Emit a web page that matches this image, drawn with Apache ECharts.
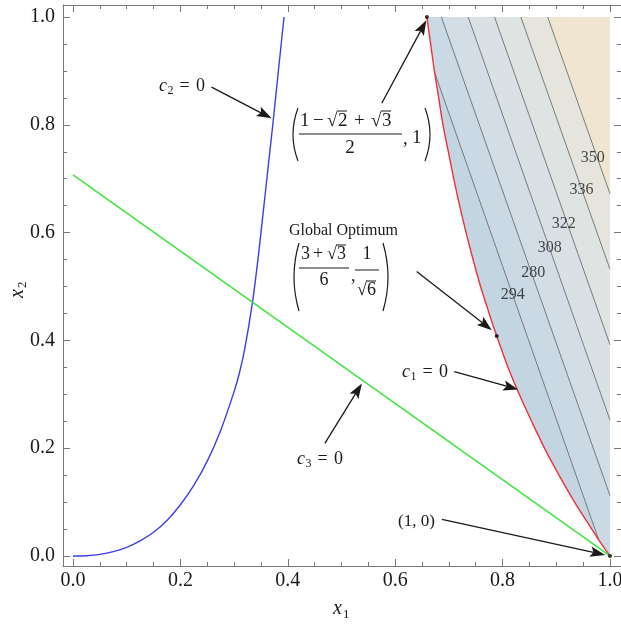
<!DOCTYPE html>
<html>
<head>
<meta charset="utf-8">
<script src="https://cdn.jsdelivr.net/npm/echarts@6/dist/echarts.min.js"></script>
<style>
  html, body { margin: 0; padding: 0; background: #fff; }
  #main { width: 621px; height: 626px; }
</style>
</head>
<body>
<div id="main"></div>
<script>
// tick values
const majorTicks = [0, 0.2, 0.4, 0.6, 0.8, 1.0];
const minorTicks = [0.05, 0.1, 0.15, 0.25, 0.3, 0.35, 0.45, 0.5, 0.55, 0.65, 0.7, 0.75, 0.85, 0.9, 0.95];

// c1 = 0 (red boundary), from the top corner down to (1, 0)
const c1Curve = [[0.659, 1], [0.666, 0.95], [0.673, 0.9], [0.681, 0.85], [0.689, 0.8], [0.699, 0.75],
  [0.709, 0.7], [0.720, 0.65], [0.732, 0.6], [0.745, 0.55], [0.759, 0.5], [0.775, 0.45], [0.789, 0.408],
  [0.792, 0.4], [0.810, 0.35], [0.831, 0.3], [0.854, 0.25], [0.878, 0.2], [0.905, 0.15], [0.934, 0.1],
  [0.966, 0.05], [0.979, 0.03], [1, 0]];
// c2 = 0 (blue)
const c2Curve = [[0, 0], [0.025, 0.0005], [0.05, 0.003], [0.075, 0.008], [0.1, 0.016], [0.125, 0.028],
  [0.15, 0.044], [0.175, 0.066], [0.2, 0.095], [0.225, 0.131], [0.25, 0.176], [0.275, 0.233],
  [0.3, 0.305], [0.31, 0.34], [0.32, 0.385], [0.334, 0.469], [0.345, 0.555], [0.355, 0.645],
  [0.364, 0.727], [0.373, 0.809], [0.383, 0.905], [0.393, 1.0]];
// c3 = 0 (green)
const c3Line = [[0, 0.707], [1, 0]];

// contour lines of the objective inside the feasible region
const contourLevels = [280, 294, 308, 322, 336, 350];
const contourLines = [
  [[0.673, 0.898], [0.979, 0.030]],
  [[0.686, 1], [1, 0.112]],
  [[0.736, 1], [1, 0.252]],
  [[0.785, 1], [1, 0.392]],
  [[0.834, 1], [1, 0.532]],
  [[0.884, 1], [1, 0.672]]
];
const contourLabelText = ['350', '336', '322', '308', '280', '294'];
const contourLabelPos = [[0.968, 0.739], [0.947, 0.679], [0.914, 0.616], [0.888, 0.572], [0.857, 0.526], [0.819, 0.484]];

// marked points and annotation arrows [tailX, tailY, tipX, tipY]
const keyPoints = [[0.659, 1], [0.789, 0.408], [1, 0]];
const arrows = [
  [0.258, 0.870, 0.370, 0.812],
  [0.575, 0.840, 0.658, 0.994],
  [0.640, 0.528, 0.780, 0.419],
  [0.710, 0.342, 0.829, 0.309],
  [0.469, 0.209, 0.538, 0.320],
  [0.687, 0.068, 0.991, 0.002]
];

// band polygons (painted in order, later ones on top)
const bandPolys = [];
bandPolys.push(c1Curve.concat([[1, 1]]));
const l280 = contourLines[0];
bandPolys.push([l280[0]].concat(c1Curve.filter(p => p[1] < l280[0][1] && p[1] > l280[1][1]), [l280[1]]));
contourLines.slice(1).forEach(l => bandPolys.push([l[0], [1, 1], l[1]]));
const bandColors = ['#cad9e4', '#c4d5e2', '#d2dde5', '#d9e1e5', '#dfe3e2', '#e5e5dd', '#f0e5d0'];

const serif = '"Liberation Serif", "Times New Roman", serif';
const ink = '#1a1a1a';
const frameColor = '#777';
const xMin = -0.0186, xMax = 1.0205, yMin = -0.0186, yMax = 1.0223;

function axis(pos, ticks, len, withLabels, withLine) {
  return {
    type: 'value', min: pos === 'left' || pos === 'right' ? yMin : xMin,
    max: pos === 'left' || pos === 'right' ? yMax : xMax,
    position: pos,
    axisLine: {show: withLine, onZero: false, lineStyle: {color: frameColor, width: 1}},
    axisTick: {show: true, inside: true, length: len, customValues: ticks, lineStyle: {color: frameColor, width: 1}},
    axisLabel: {
      show: withLabels, customValues: ticks, formatter: v => v.toFixed(1),
      fontFamily: serif, fontSize: 20, color: ink, margin: pos === 'left' ? 8 : 5
    },
    splitLine: {show: false}
  };
}

function t(x, y, text, size, italic, align) {
  return {type: 'text', x: x, y: y, z: 100, style: {
    text: text, fontSize: size, fontFamily: serif, fontStyle: italic ? 'italic' : 'normal',
    fill: ink, align: align || 'left', verticalAlign: 'middle'}};
}
function seg(x1, y1, x2, y2) {
  return {type: 'line', z: 100, shape: {x1: x1, y1: y1, x2: x2, y2: y2}, style: {stroke: ink, lineWidth: 1}};
}
function paren(x, y1, y2, dir) {
  return {type: 'bezierCurve', z: 100,
    shape: {x1: x, y1: y1, x2: x, y2: y2, cpx1: x + dir * 10, cpy1: (y1 + y2) / 2},
    style: {stroke: ink, lineWidth: 1.2, fill: 'none'}};
}
function cLabel(x, y, sub) {
  return [t(x, y, 'c', 18, true), t(x + 8.5, y + 5, sub, 12), t(x + 20.5, y, '=', 18), t(x + 37, y, '0', 18)];
}

const graphics = [].concat(
  cLabel(159, 86, '2'),
  cLabel(402, 372, '1'),
  cLabel(297, 459, '3'),
  [
    t(398, 522, '(1, 0)', 17),
    // ((1 - sqrt2 + sqrt3)/2, 1)
    paren(298, 108, 161, -1), paren(425, 108, 161, 1),
    t(300, 121, '1', 19), t(313, 121, '−', 19),
    t(327, 121, '√', 19), t(338, 121, '2', 19), seg(337, 111, 347, 111),
    t(354, 121, '+', 19),
    t(371, 121, '√', 19), t(382, 121, '3', 19), seg(381, 111, 391, 111),
    seg(299, 134, 402, 134),
    t(350, 148, '2', 19, false, 'center'),
    t(403, 139, ',', 19), t(412, 138, '1', 19),
    // Global optimum
    t(289, 231, 'Global Optimum', 16),
    paren(299, 243, 311, -1), paren(383, 243, 311, 1),
    t(301, 254, '3', 18), t(313, 254, '+', 18), t(327, 254, '√', 18), t(337, 254, '3', 18), seg(336, 245, 346, 245),
    seg(299, 268, 349, 268),
    t(324, 280, '6', 18, false, 'center'),
    t(351, 276, ',', 18),
    t(367, 254, '1', 18, false, 'center'),
    seg(355, 270, 379, 270),
    t(357, 290, '√', 18), t(367, 290, '6', 18), seg(366, 281, 376, 281),
    // axis names
    t(333, 609, 'x', 20, true), t(343, 615, '1', 13),
    {type: 'group', x: 18, y: 287, rotation: Math.PI / 2, z: 100, children: [
      t(-11, 0, 'x', 20, true), t(-1, 5, '2', 13)
    ]}
  ]
);

const chart = echarts.init(document.getElementById('main'), null, {renderer: 'canvas'});
chart.setOption({
  animation: false,
  backgroundColor: '#fff',
  grid: {left: 63, right: 0, top: 5, bottom: 60, containLabel: false, outerBoundsMode: 'none'},
  xAxis: [
    axis('bottom', majorTicks, 7, true, true),
    axis('bottom', minorTicks, 4, false, false),
    axis('top', majorTicks, 7, false, true),
    axis('top', minorTicks, 4, false, false)
  ],
  yAxis: [
    axis('left', majorTicks, 7, true, true),
    axis('left', minorTicks, 4, false, false),
    axis('right', majorTicks, 7, false, false),
    axis('right', minorTicks, 4, false, false)
  ],
  series: [
    {
      type: 'custom', z: 1, silent: true,
      data: bandPolys.map(p => p[0]),
      renderItem: (params, api) => ({
        type: 'polygon',
        shape: {points: bandPolys[params.dataIndex].map(p => api.coord(p))},
        style: {fill: bandColors[params.dataIndex]}
      })
    },
    {
      type: 'lines', coordinateSystem: 'cartesian2d', z: 2, silent: true,
      data: contourLines.map((c, i) => ({name: String(contourLevels[i]), coords: c})),
      lineStyle: {color: '#5d6468', width: 0.9, opacity: 0.9}
    },
    {
      type: 'line', z: 3, data: c1Curve, showSymbol: false, smooth: 0.3, silent: true,
      lineStyle: {color: '#f0303a', width: 1.4}
    },
    {
      type: 'line', z: 3, data: c2Curve, showSymbol: false, smooth: 0.3, silent: true,
      lineStyle: {color: '#3c3cf0', width: 1.4}
    },
    {
      type: 'line', z: 3, data: c3Line, showSymbol: false, silent: true,
      lineStyle: {color: '#3ce63c', width: 1.5}
    },
    {
      type: 'scatter', z: 4, data: contourLabelPos, symbolSize: 0, silent: true,
      label: {show: true, position: 'inside', formatter: p => contourLabelText[p.dataIndex],
        fontFamily: serif, fontSize: 16, color: ink}
    },
    {
      type: 'scatter', z: 5, data: keyPoints, symbolSize: 4, silent: true,
      itemStyle: {color: '#000'}
    },
    {
      type: 'custom', z: 6, silent: true,
      data: arrows,
      renderItem: (params, api) => {
        const a = api.coord([api.value(0), api.value(1)]);
        const b = api.coord([api.value(2), api.value(3)]);
        const dx = b[0] - a[0], dy = b[1] - a[1];
        const L = Math.sqrt(dx * dx + dy * dy);
        const ux = dx / L, uy = dy / L;
        const hl = 15, hw = 5.2, notch = 3;
        const base = [b[0] - ux * hl, b[1] - uy * hl];
        const mid = [b[0] - ux * (hl - notch), b[1] - uy * (hl - notch)];
        return {type: 'group', children: [
          {type: 'line', shape: {x1: a[0], y1: a[1], x2: mid[0], y2: mid[1]}, style: {stroke: ink, lineWidth: 1.3}},
          {type: 'polygon', shape: {points: [b, [base[0] - uy * hw, base[1] + ux * hw], mid,
            [base[0] + uy * hw, base[1] - ux * hw]]}, style: {fill: ink}}
        ]};
      }
    }
  ],
  graphic: graphics
});
</script>
</body>
</html>
